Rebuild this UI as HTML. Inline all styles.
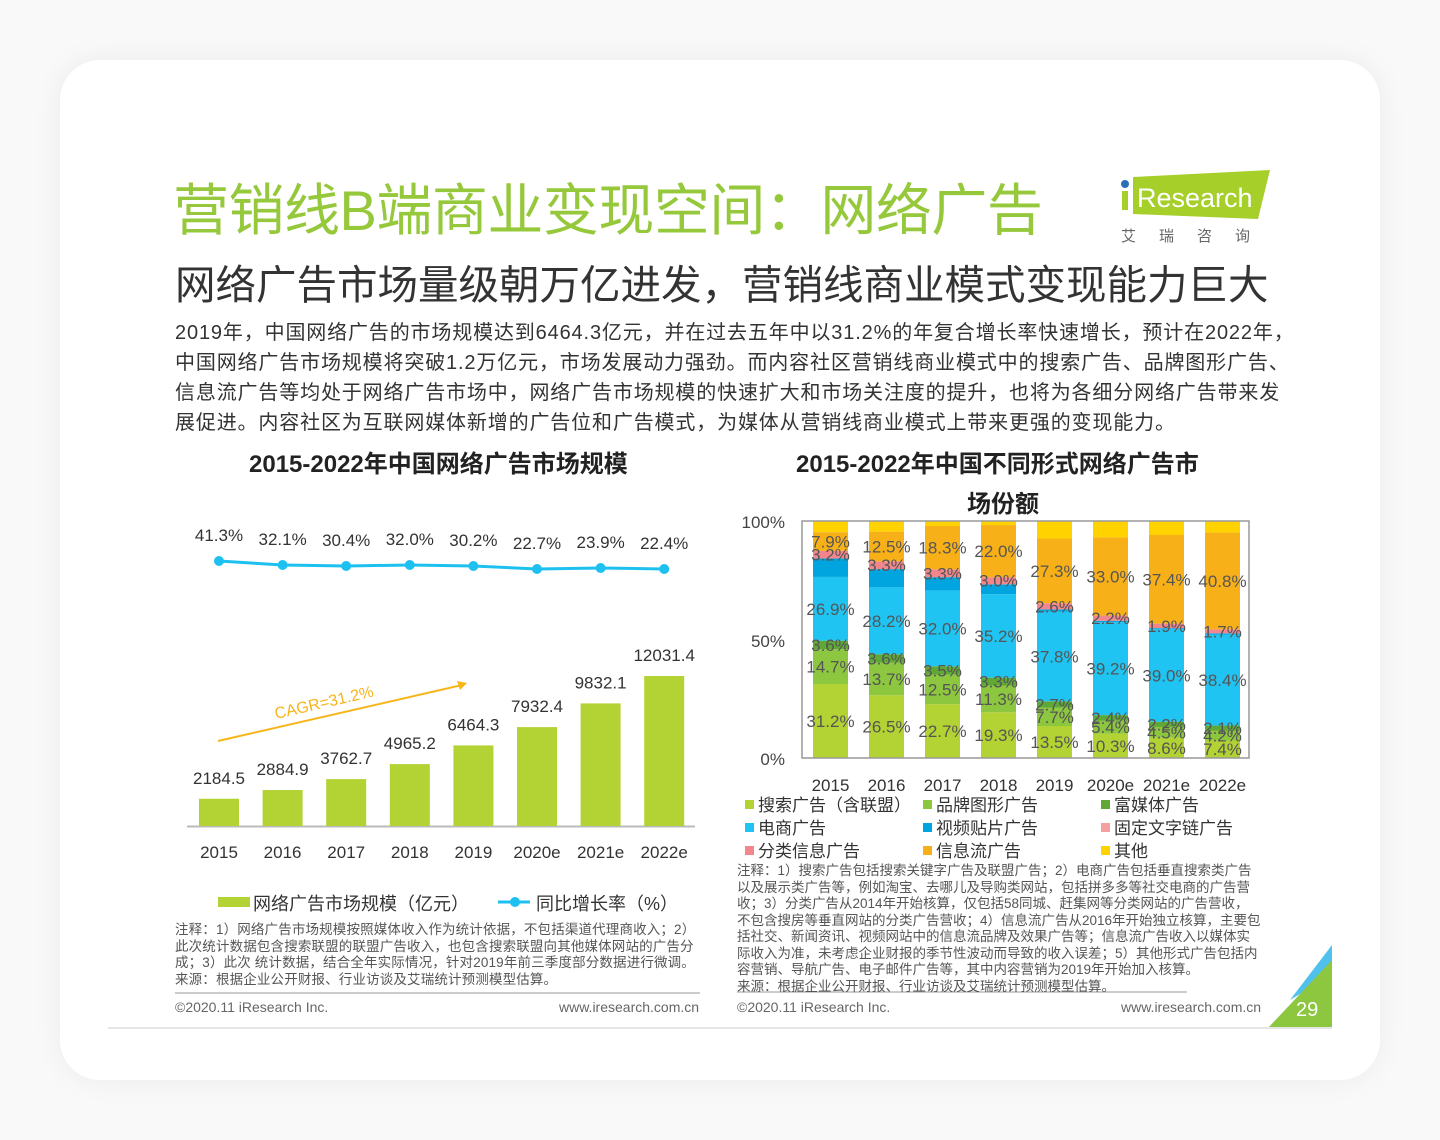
<!DOCTYPE html>
<html><head><meta charset="utf-8">
<style>
body{margin:0;width:1440px;height:1140px;background:#f9f9f9;position:relative;overflow:hidden;font-family:"Liberation Sans","Noto Sans CJK SC",sans-serif;}
.card{position:absolute;left:60px;top:60px;width:1320px;height:1020px;background:#fff;border-radius:40px;box-shadow:0 0 30px rgba(0,0,0,0.06);}
.t{position:absolute;white-space:nowrap;}
svg text{font-family:"Liberation Sans","Noto Sans CJK SC",sans-serif;}
</style></head><body>
<div class="card"></div>
<div class="t" style="left:173px;top:166px;font-size:56px;color:#96c83c;letter-spacing:-0.5px;">营销线B端商业变现空间：网络广告</div>
<div class="t" style="left:175px;top:252px;font-size:40.5px;color:#333;">网络广告市场量级朝万亿进发，营销线商业模式变现能力巨大</div>
<div class="t" style="left:175px;top:318px;font-size:20px;line-height:30px;color:#333;letter-spacing:0.85px;">2019年，中国网络广告的市场规模达到6464.3亿元，并在过去五年中以31.2%的年复合增长率快速增长，预计在2022年，<br>中国网络广告市场规模将突破1.2万亿元，市场发展动力强劲。而内容社区营销线商业模式中的搜索广告、品牌图形广告、<br>信息流广告等均处于网络广告市场中，网络广告市场规模的快速扩大和市场关注度的提升，也将为各细分网络广告带来发<br>展促进。内容社区为互联网媒体新增的广告位和广告模式，为媒体从营销线商业模式上带来更强的变现能力。</div>
<div class="t" style="left:249px;top:444px;font-size:24px;font-weight:bold;color:#222;">2015-2022年中国网络广告市场规模</div>
<div class="t" style="left:796px;top:444px;font-size:24px;font-weight:bold;color:#222;">2015-2022年中国不同形式网络广告市</div>
<div class="t" style="left:967px;top:484px;font-size:24px;font-weight:bold;color:#222;">场份额</div>

<svg width="1440" height="1140" style="position:absolute;left:0;top:0" id="s">
<polygon points="1133,177 1270,170 1258,219 1133,214" fill="#a6cf2a"/>
<circle cx="1125" cy="184" r="4" fill="#2a6fb8"/>
<rect x="1122" y="191" width="6" height="19" fill="#a6cf2a"/>
<text x="1137" y="207" font-size="27" fill="#fff">Research</text>
<text x="1121" y="241" font-size="15" fill="#666" letter-spacing="23">艾瑞咨询</text>
<polygon points="1332,945 1332,975 1290,1000" fill="#4fc1ec"/>
<polygon points="1332,960 1332,1028 1268,1028" fill="#8dc63f"/>
<text x="1296" y="1016" font-size="20" fill="#fff">29</text>
<line x1="108" y1="1028" x2="1332" y2="1028" stroke="#e6e6e6" stroke-width="2"/>
<line x1="187" y1="826.5" x2="695" y2="826.5" stroke="#bbb" stroke-width="2"/>
<line x1="218" y1="741" x2="462" y2="685" stroke="#f7b51a" stroke-width="2"/>
<polygon points="467,683 457,681 460,690" fill="#f7b51a"/>
<text x="0" y="0" font-size="16" fill="#f7b51a" transform="translate(276,719) rotate(-13)">CAGR=31.2%</text>
<g id="L"></g><g id="R"></g>
<rect x="218" y="897" width="32" height="10" fill="#b3d234"/>
<line x1="498" y1="902" x2="530" y2="902" stroke="#1ec0f0" stroke-width="3"/>
<circle cx="515" cy="902" r="5" fill="#1ec0f0"/>
<line x1="175" y1="993" x2="700" y2="993" stroke="#999" stroke-width="1"/>
<line x1="737" y1="992" x2="1187" y2="992" stroke="#999" stroke-width="1"/>
<rect x="802" y="521" width="447" height="237" fill="none" stroke="#999" stroke-width="1.5"/>
<text x="785" y="528" font-size="17" fill="#444" text-anchor="end">100%</text>
<text x="785" y="647" font-size="17" fill="#444" text-anchor="end">50%</text>
<text x="785" y="765" font-size="17" fill="#444" text-anchor="end">0%</text>
</svg>
<div class="t" style="left:253px;top:890px;font-size:18px;color:#333;">网络广告市场规模（亿元）</div>
<div class="t" style="left:536px;top:890px;font-size:18px;color:#333;">同比增长率（%）</div>
<div class="t" style="left:175px;top:922px;font-size:13.5px;line-height:16.5px;color:#555;letter-spacing:0.15px;">注释：1）网络广告市场规模按照媒体收入作为统计依据，不包括渠道代理商收入；2）<br>此次统计数据包含搜索联盟的联盟广告收入，也包含搜索联盟向其他媒体网站的广告分<br>成；3）此次 统计数据，结合全年实际情况，针对2019年前三季度部分数据进行微调。<br>来源：根据企业公开财报、行业访谈及艾瑞统计预测模型估算。</div>
<div class="t" style="left:175px;top:999px;font-size:14px;color:#666;">©2020.11 iResearch Inc.</div>
<div class="t" style="left:559px;top:999px;font-size:14px;color:#666;">www.iresearch.com.cn</div>
<div class="t" style="left:737px;top:863px;font-size:13.5px;line-height:16.5px;color:#555;">注释：1）搜索广告包括搜索关键字广告及联盟广告；2）电商广告包括垂直搜索类广告<br>以及展示类广告等，例如淘宝、去哪儿及导购类网站，包括拼多多等社交电商的广告营<br>收；3）分类广告从2014年开始核算，仅包括58同城、赶集网等分类网站的广告营收，<br>不包含搜房等垂直网站的分类广告营收；4）信息流广告从2016年开始独立核算，主要包<br>括社交、新闻资讯、视频网站中的信息流品牌及效果广告等；信息流广告收入以媒体实<br>际收入为准，未考虑企业财报的季节性波动而导致的收入误差；5）其他形式广告包括内<br>容营销、导航广告、电子邮件广告等，其中内容营销为2019年开始加入核算。<br>来源：根据企业公开财报、行业访谈及艾瑞统计预测模型估算。</div>
<div class="t" style="left:737px;top:999px;font-size:14px;color:#666;">©2020.11 iResearch Inc.</div>
<div class="t" style="left:1121px;top:999px;font-size:14px;color:#666;">www.iresearch.com.cn</div>
<script>
var NS="http://www.w3.org/2000/svg";
function el(p,t,a,txt){var e=document.createElementNS(NS,t);for(var k in a)e.setAttribute(k,a[k]);if(txt!=null)e.textContent=txt;p.appendChild(e);return e;}
var L=document.getElementById('L');
var yrs=['2015','2016','2017','2018','2019','2020e','2021e','2022e'];
var vals=[2184.5,2884.9,3762.7,4965.2,6464.3,7932.4,9832.1,12031.4];
var rates=['41.3%','32.1%','30.4%','32.0%','30.2%','22.7%','23.9%','22.4%'];
var ly=[561,565,566,565,566,569,568,569];
var pts=[];
for(var i=0;i<8;i++){var cx=219+i*63.6;var h=vals[i]*0.01247;
el(L,'rect',{x:cx-20,y:826-h,width:40,height:h,fill:'#b3d234'});
el(L,'text',{x:cx,y:826-h-15,'font-size':17,fill:'#333','text-anchor':'middle'},vals[i].toFixed(1));
el(L,'text',{x:cx,y:858,'font-size':17,fill:'#333','text-anchor':'middle'},yrs[i]);
el(L,'text',{x:cx,y:ly[i]-20,'font-size':17,fill:'#333','text-anchor':'middle'},rates[i]);
pts.push(cx+','+ly[i]);}
el(L,'polyline',{points:pts.join(' '),fill:'none',stroke:'#1ec0f0','stroke-width':3});
for(var i=0;i<8;i++)el(L,'circle',{cx:219+i*63.6,cy:ly[i],r:5,fill:'#1ec0f0'});
var R=document.getElementById('R');
var cols=['#b3d234','#8dc63f','#5fa836','#1fc4f2','#00a5e0','#f3868c','#f8b018','#ffd200'];
var D=[[31.2,14.7,3.6,26.9,7.8,3.2,7.9],[26.5,13.7,3.6,28.2,7.7,3.3,12.5],[22.7,12.5,3.5,32.0,5.6,3.3,18.3],[19.3,11.3,3.3,35.2,4.2,3.0,22.0],[13.5,7.7,2.7,37.8,1.0,2.6,27.3],[10.3,5.4,2.4,39.2,0.6,2.2,33.0],[8.6,4.5,2.2,39.0,0.5,1.9,37.4],[7.4,4.2,2.1,38.4,0.5,1.7,40.8]];
for(var i=0;i<8;i++){var x=813+i*56,acc=0;var d=D[i].slice();var s=0;d.forEach(function(v){s+=v});d.push(100-s);
for(var j=0;j<8;j++){var y1=758-(acc+d[j])*2.37,h=d[j]*2.37;el(R,'rect',{x:x,y:y1,width:35,height:h,fill:cols[j]});acc+=d[j];}
acc=0;for(var j=0;j<7;j++){var c=758-(acc+d[j]/2)*2.37;acc+=d[j];if(j==4)continue;
el(R,'text',{x:x+17.5,y:c+6,'font-size':17,fill:'#555','text-anchor':'middle'},D[i][j].toFixed(1)+'%');}
el(R,'text',{x:x+17.5,y:791,'font-size':17,fill:'#333','text-anchor':'middle'},yrs[i]);}
var lg=[['搜索广告（含联盟）',745,805],['品牌图形广告',923,805],['富媒体广告',1101,805],['电商广告',745,828],['视频贴片广告',923,828],['固定文字链广告',1101,828],['分类信息广告',745,851],['信息流广告',923,851],['其他',1101,851]];
var lc=['#b3d234','#8dc63f','#5fa836','#1fc4f2','#00a5e0','#f5a0a0','#f3868c','#f8b018','#ffd200'];
var S=document.getElementById('s');
lg.forEach(function(l,k){el(S,'rect',{x:l[1],y:l[2]-5,width:9,height:9,fill:lc[k]});el(S,'text',{x:l[1]+13,y:l[2]+6,'font-size':17,fill:'#333'},l[0]);});
</script>
</body></html>
